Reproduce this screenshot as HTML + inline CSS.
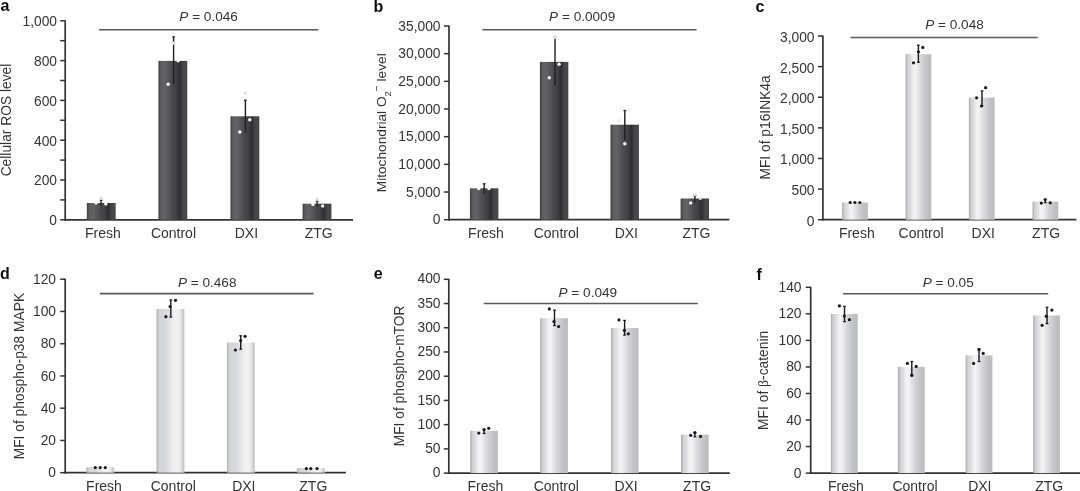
<!DOCTYPE html>
<html><head><meta charset="utf-8"><title>Figure</title>
<style>
html,body{margin:0;padding:0;background:#fff;}
svg{display:block;will-change:transform;filter:blur(0.3px);}
.t{font-family:"Liberation Sans", Arial, Helvetica, sans-serif;font-size:14px;fill:#333333;}
.s{font-size:13.8px;}
.pv{font-size:13.6px;}
.L{font-family:"Liberation Sans", Arial, Helvetica, sans-serif;font-size:16px;font-weight:bold;fill:#0d0d0d;}
</style></head><body>
<svg width="1080" height="491" viewBox="0 0 1080 491">
<defs>
<linearGradient id="gd" x1="0" x2="1" y1="0" y2="0">
<stop offset="0" stop-color="#3a3a3a"/>
<stop offset="0.08" stop-color="#5c5c5e"/>
<stop offset="0.22" stop-color="#636365"/>
<stop offset="0.45" stop-color="#4c4c4e"/>
<stop offset="0.62" stop-color="#404042"/>
<stop offset="0.74" stop-color="#2e2e2f"/>
<stop offset="0.84" stop-color="#444446"/>
<stop offset="0.95" stop-color="#4a4a4c"/>
<stop offset="1" stop-color="#3c3c3c"/>
</linearGradient>
<linearGradient id="gl" x1="0" x2="1" y1="0" y2="0">
<stop offset="0" stop-color="#a4a4a6"/>
<stop offset="0.04" stop-color="#bdbdbf"/>
<stop offset="0.09" stop-color="#d2d2d4"/>
<stop offset="0.2" stop-color="#dedee0"/>
<stop offset="0.31" stop-color="#f2f2f2"/>
<stop offset="0.38" stop-color="#f3f3f3"/>
<stop offset="0.5" stop-color="#e4e4e6"/>
<stop offset="0.62" stop-color="#d5d5d7"/>
<stop offset="0.76" stop-color="#c8c8ca"/>
<stop offset="0.9" stop-color="#bdbec0"/>
<stop offset="0.97" stop-color="#bebebf"/>
<stop offset="1" stop-color="#c8c8c8"/>
</linearGradient>
<linearGradient id="gl2" x1="0" x2="1" y1="0" y2="0">
<stop offset="0" stop-color="#a9a9ab"/>
<stop offset="0.04" stop-color="#c2c2c4"/>
<stop offset="0.1" stop-color="#d3d4d6"/>
<stop offset="0.3" stop-color="#d7d8da"/>
<stop offset="0.45" stop-color="#e1e1e3"/>
<stop offset="0.6" stop-color="#eeeeee"/>
<stop offset="0.75" stop-color="#f3f3f3"/>
<stop offset="0.86" stop-color="#e8e8e8"/>
<stop offset="0.93" stop-color="#cfcfd1"/>
<stop offset="0.97" stop-color="#c8c8ca"/>
<stop offset="1" stop-color="#d6d6d6"/>
</linearGradient>
</defs>
<line x1="65.2" y1="20.3" x2="65.2" y2="220.6" stroke="#333333" stroke-width="1.7"/>
<line x1="64.4" y1="219.8" x2="353" y2="219.8" stroke="#333333" stroke-width="1.7"/>
<line x1="60.2" y1="219.8" x2="65.2" y2="219.8" stroke="#333333" stroke-width="1.5"/>
<text x="57" y="225.13" text-anchor="end" class="t s">0</text>
<line x1="60.2" y1="199.9" x2="65.2" y2="199.9" stroke="#333333" stroke-width="1.5"/>
<line x1="60.2" y1="180" x2="65.2" y2="180" stroke="#333333" stroke-width="1.5"/>
<text x="57" y="185.33" text-anchor="end" class="t s">200</text>
<line x1="60.2" y1="160.1" x2="65.2" y2="160.1" stroke="#333333" stroke-width="1.5"/>
<line x1="60.2" y1="140.2" x2="65.2" y2="140.2" stroke="#333333" stroke-width="1.5"/>
<text x="57" y="145.53" text-anchor="end" class="t s">400</text>
<line x1="60.2" y1="120.3" x2="65.2" y2="120.3" stroke="#333333" stroke-width="1.5"/>
<line x1="60.2" y1="100.4" x2="65.2" y2="100.4" stroke="#333333" stroke-width="1.5"/>
<text x="57" y="105.73" text-anchor="end" class="t s">600</text>
<line x1="60.2" y1="80.5" x2="65.2" y2="80.5" stroke="#333333" stroke-width="1.5"/>
<line x1="60.2" y1="60.6" x2="65.2" y2="60.6" stroke="#333333" stroke-width="1.5"/>
<text x="57" y="65.93" text-anchor="end" class="t s">800</text>
<line x1="60.2" y1="40.7" x2="65.2" y2="40.7" stroke="#333333" stroke-width="1.5"/>
<line x1="60.2" y1="20.8" x2="65.2" y2="20.8" stroke="#333333" stroke-width="1.5"/>
<text x="57" y="26.13" text-anchor="end" class="t s">1,000</text>
<rect x="86.85" y="203" width="28.8" height="16.8" fill="url(#gd)"/>
<rect x="158.45" y="60.9" width="28.8" height="158.9" fill="url(#gd)"/>
<rect x="230.5" y="116.3" width="28.8" height="103.5" fill="url(#gd)"/>
<rect x="302.6" y="203.7" width="28.8" height="16.1" fill="url(#gd)"/>
<line x1="101.05" y1="200.2" x2="101.05" y2="205.7" stroke="#1f1f1f" stroke-width="1.4"/>
<line x1="99.65" y1="200.2" x2="102.45" y2="200.2" stroke="#1f1f1f" stroke-width="1.2"/>
<circle cx="96" cy="202.9" r="1.7" fill="#ffffff"/>
<circle cx="105.8" cy="203.9" r="1.7" fill="#ffffff"/>
<circle cx="101.1" cy="198.3" r="1.7" fill="#e0e0e0"/>
<line x1="173.6" y1="36.9" x2="173.6" y2="84.3" stroke="#1f1f1f" stroke-width="1.4"/>
<line x1="172.2" y1="36.9" x2="175" y2="36.9" stroke="#1f1f1f" stroke-width="1.2"/>
<circle cx="168.2" cy="84.3" r="1.7" fill="#ffffff"/>
<circle cx="178.2" cy="60.7" r="1.7" fill="#ffffff"/>
<circle cx="173.9" cy="43.2" r="1.7" fill="#e0e0e0"/>
<line x1="245.4" y1="100.2" x2="245.4" y2="132.5" stroke="#1f1f1f" stroke-width="1.4"/>
<line x1="244" y1="100.2" x2="246.8" y2="100.2" stroke="#1f1f1f" stroke-width="1.2"/>
<circle cx="239.8" cy="132" r="1.7" fill="#ffffff"/>
<circle cx="249.8" cy="119.8" r="1.7" fill="#ffffff"/>
<circle cx="245.4" cy="93.3" r="1.7" fill="#e0e0e0"/>
<line x1="317.1" y1="201" x2="317.1" y2="206.3" stroke="#1f1f1f" stroke-width="1.4"/>
<line x1="315.7" y1="201" x2="318.5" y2="201" stroke="#1f1f1f" stroke-width="1.2"/>
<circle cx="313" cy="204.4" r="1.7" fill="#ffffff"/>
<circle cx="322.7" cy="205.9" r="1.7" fill="#ffffff"/>
<circle cx="317.1" cy="199.3" r="1.7" fill="#e0e0e0"/>
<line x1="99" y1="29.7" x2="318.3" y2="29.7" stroke="#5a5a5a" stroke-width="1.6"/>
<text x="179.3" y="20.8" class="t pv"><tspan font-style="italic">P</tspan> = 0.046</text>
<text x="102.9" y="237.6" text-anchor="middle" class="t">Fresh</text>
<text x="173.45" y="237.6" text-anchor="middle" class="t">Control</text>
<text x="246.4" y="237.6" text-anchor="middle" class="t">DXI</text>
<text x="318.7" y="237.6" text-anchor="middle" class="t">ZTG</text>
<text transform="translate(11.1,120) rotate(-90)" text-anchor="middle" class="t" style="font-size:13.8px">Cellular ROS level</text>
<text x="0.5" y="11" class="L">a</text>
<line x1="449" y1="25.5" x2="449" y2="220.5" stroke="#333333" stroke-width="1.7"/>
<line x1="448.2" y1="219.7" x2="729.3" y2="219.7" stroke="#333333" stroke-width="1.7"/>
<line x1="444" y1="219.7" x2="449" y2="219.7" stroke="#333333" stroke-width="1.5"/>
<text x="440.5" y="224.43" text-anchor="end" class="t s">0</text>
<line x1="444" y1="192.03" x2="449" y2="192.03" stroke="#333333" stroke-width="1.5"/>
<text x="440.5" y="196.76" text-anchor="end" class="t s">5,000</text>
<line x1="444" y1="164.36" x2="449" y2="164.36" stroke="#333333" stroke-width="1.5"/>
<text x="440.5" y="169.09" text-anchor="end" class="t s">10,000</text>
<line x1="444" y1="136.69" x2="449" y2="136.69" stroke="#333333" stroke-width="1.5"/>
<text x="440.5" y="141.42" text-anchor="end" class="t s">15,000</text>
<line x1="444" y1="109.01" x2="449" y2="109.01" stroke="#333333" stroke-width="1.5"/>
<text x="440.5" y="113.74" text-anchor="end" class="t s">20,000</text>
<line x1="444" y1="81.34" x2="449" y2="81.34" stroke="#333333" stroke-width="1.5"/>
<text x="440.5" y="86.07" text-anchor="end" class="t s">25,000</text>
<line x1="444" y1="53.67" x2="449" y2="53.67" stroke="#333333" stroke-width="1.5"/>
<text x="440.5" y="58.4" text-anchor="end" class="t s">30,000</text>
<line x1="444" y1="26" x2="449" y2="26" stroke="#333333" stroke-width="1.5"/>
<text x="440.5" y="30.73" text-anchor="end" class="t s">35,000</text>
<rect x="469.95" y="188.3" width="28.4" height="31.4" fill="url(#gd)"/>
<rect x="539.9" y="61.9" width="28.4" height="157.8" fill="url(#gd)"/>
<rect x="610.5" y="124.7" width="28.4" height="95" fill="url(#gd)"/>
<rect x="680.6" y="198.5" width="28.4" height="21.2" fill="url(#gd)"/>
<line x1="484.2" y1="183.8" x2="484.2" y2="193.5" stroke="#1f1f1f" stroke-width="1.4"/>
<line x1="482.8" y1="183.8" x2="485.6" y2="183.8" stroke="#1f1f1f" stroke-width="1.2"/>
<circle cx="478.8" cy="188.6" r="1.7" fill="#ffffff"/>
<circle cx="489" cy="188.6" r="1.7" fill="#ffffff"/>
<line x1="555" y1="37.2" x2="555" y2="85.6" stroke="#1f1f1f" stroke-width="1.4"/>
<line x1="553.6" y1="37.2" x2="556.4" y2="37.2" stroke="#1f1f1f" stroke-width="1.2"/>
<circle cx="549.3" cy="77.8" r="1.7" fill="#ffffff"/>
<circle cx="559.1" cy="64.3" r="1.7" fill="#ffffff"/>
<circle cx="555" cy="37.2" r="1.7" fill="#e0e0e0"/>
<line x1="624.8" y1="110.5" x2="624.8" y2="140" stroke="#1f1f1f" stroke-width="1.4"/>
<line x1="623.4" y1="110.5" x2="626.2" y2="110.5" stroke="#1f1f1f" stroke-width="1.2"/>
<circle cx="624.8" cy="143.8" r="1.7" fill="#ffffff"/>
<circle cx="619.2" cy="120.8" r="1.7" fill="#ececec"/>
<circle cx="629" cy="110.3" r="1.7" fill="#ececec"/>
<line x1="694.9" y1="195.8" x2="694.9" y2="202.4" stroke="#1f1f1f" stroke-width="1.4"/>
<line x1="693.5" y1="195.8" x2="696.3" y2="195.8" stroke="#1f1f1f" stroke-width="1.2"/>
<circle cx="690.7" cy="202.9" r="1.7" fill="#ffffff"/>
<circle cx="700.3" cy="198.2" r="1.7" fill="#e8e8e8"/>
<circle cx="694.9" cy="194.6" r="1.7" fill="#e0e0e0"/>
<line x1="482.4" y1="29.7" x2="696.6" y2="29.7" stroke="#5a5a5a" stroke-width="1.6"/>
<text x="549.1" y="20.8" class="t pv"><tspan font-style="italic">P</tspan> = 0.0009</text>
<text x="486" y="237.8" text-anchor="middle" class="t">Fresh</text>
<text x="556.3" y="237.8" text-anchor="middle" class="t">Control</text>
<text x="626.3" y="237.8" text-anchor="middle" class="t">DXI</text>
<text x="696.4" y="237.8" text-anchor="middle" class="t">ZTG</text>
<text transform="translate(385.6,122.8) rotate(-90)" text-anchor="middle" class="t" style="font-size:13.7px">Mitochondrial O<tspan font-size="9.5" dy="5">2</tspan><tspan font-size="10" dy="-11">&#8722;</tspan><tspan dy="6"> level</tspan></text>
<text x="373.4" y="12.2" class="L">b</text>
<line x1="822.9" y1="35.5" x2="822.9" y2="220.5" stroke="#333333" stroke-width="1.7"/>
<line x1="822.1" y1="219.7" x2="1076.4" y2="219.7" stroke="#333333" stroke-width="1.7"/>
<line x1="817.9" y1="219.7" x2="822.9" y2="219.7" stroke="#333333" stroke-width="1.5"/>
<text x="814.5" y="225.58" text-anchor="end" class="t s">0</text>
<line x1="817.9" y1="189.08" x2="822.9" y2="189.08" stroke="#333333" stroke-width="1.5"/>
<text x="814.5" y="194.96" text-anchor="end" class="t s">500</text>
<line x1="817.9" y1="158.47" x2="822.9" y2="158.47" stroke="#333333" stroke-width="1.5"/>
<text x="814.5" y="164.35" text-anchor="end" class="t s">1,000</text>
<line x1="817.9" y1="127.85" x2="822.9" y2="127.85" stroke="#333333" stroke-width="1.5"/>
<text x="814.5" y="133.73" text-anchor="end" class="t s">1,500</text>
<line x1="817.9" y1="97.23" x2="822.9" y2="97.23" stroke="#333333" stroke-width="1.5"/>
<text x="814.5" y="103.11" text-anchor="end" class="t s">2,000</text>
<line x1="817.9" y1="66.62" x2="822.9" y2="66.62" stroke="#333333" stroke-width="1.5"/>
<text x="814.5" y="72.5" text-anchor="end" class="t s">2,500</text>
<line x1="817.9" y1="36" x2="822.9" y2="36" stroke="#333333" stroke-width="1.5"/>
<text x="814.5" y="41.88" text-anchor="end" class="t s">3,000</text>
<rect x="842.15" y="202.5" width="25.8" height="17.2" fill="url(#gl)"/>
<rect x="905.6" y="54.2" width="25.8" height="165.5" fill="url(#gl)"/>
<rect x="968.9" y="97.5" width="25.8" height="122.2" fill="url(#gl)"/>
<rect x="1032.55" y="201.6" width="25.8" height="18.1" fill="url(#gl)"/>
<circle cx="850.2" cy="202.5" r="1.6" fill="#1a1a1a"/>
<circle cx="854.9" cy="202.5" r="1.6" fill="#1a1a1a"/>
<circle cx="859.8" cy="202.5" r="1.6" fill="#1a1a1a"/>
<line x1="918.4" y1="45.2" x2="918.4" y2="62.3" stroke="#1a1a1a" stroke-width="1.4"/>
<line x1="917" y1="45.2" x2="919.8" y2="45.2" stroke="#1a1a1a" stroke-width="1.2"/>
<line x1="917" y1="62.3" x2="919.8" y2="62.3" stroke="#1a1a1a" stroke-width="1.2"/>
<circle cx="913.5" cy="62.8" r="1.6" fill="#1a1a1a"/>
<circle cx="918.4" cy="51.8" r="1.6" fill="#1a1a1a"/>
<circle cx="922.8" cy="47.4" r="1.6" fill="#1a1a1a"/>
<line x1="982" y1="90.9" x2="982" y2="106" stroke="#1a1a1a" stroke-width="1.4"/>
<line x1="980.6" y1="90.9" x2="983.4" y2="90.9" stroke="#1a1a1a" stroke-width="1.2"/>
<line x1="980.6" y1="106" x2="983.4" y2="106" stroke="#1a1a1a" stroke-width="1.2"/>
<circle cx="976.6" cy="97.8" r="1.6" fill="#1a1a1a"/>
<circle cx="981.5" cy="106" r="1.6" fill="#1a1a1a"/>
<circle cx="985.6" cy="87.7" r="1.6" fill="#1a1a1a"/>
<line x1="1045.2" y1="199.5" x2="1045.2" y2="202.6" stroke="#1a1a1a" stroke-width="1.4"/>
<line x1="1043.8" y1="199.5" x2="1046.6" y2="199.5" stroke="#1a1a1a" stroke-width="1.2"/>
<line x1="1043.8" y1="202.6" x2="1046.6" y2="202.6" stroke="#1a1a1a" stroke-width="1.2"/>
<circle cx="1041.3" cy="203.1" r="1.6" fill="#1a1a1a"/>
<circle cx="1045.2" cy="199.5" r="1.6" fill="#1a1a1a"/>
<circle cx="1050.2" cy="202.8" r="1.6" fill="#1a1a1a"/>
<line x1="850.4" y1="37.5" x2="1037.7" y2="37.5" stroke="#5a5a5a" stroke-width="1.6"/>
<text x="925.2" y="29.3" class="t pv"><tspan font-style="italic">P</tspan> = 0.048</text>
<text x="856.8" y="238.4" text-anchor="middle" class="t">Fresh</text>
<text x="921.1" y="238.4" text-anchor="middle" class="t">Control</text>
<text x="983.2" y="238.4" text-anchor="middle" class="t">DXI</text>
<text x="1046.1" y="238.4" text-anchor="middle" class="t">ZTG</text>
<text transform="translate(770.1,127.45) rotate(-90)" text-anchor="middle" class="t" style="font-size:13.8px">MFI of p16INK4a</text>
<text x="755.5" y="11.8" class="L">c</text>
<line x1="65.2" y1="278.7" x2="65.2" y2="473.5" stroke="#333333" stroke-width="1.7"/>
<line x1="64.4" y1="472.7" x2="345.9" y2="472.7" stroke="#333333" stroke-width="1.7"/>
<line x1="60.2" y1="472.7" x2="65.2" y2="472.7" stroke="#333333" stroke-width="1.5"/>
<text x="56" y="477.45" text-anchor="end" class="t s">0</text>
<line x1="60.2" y1="440.45" x2="65.2" y2="440.45" stroke="#333333" stroke-width="1.5"/>
<text x="56" y="445.2" text-anchor="end" class="t s">20</text>
<line x1="60.2" y1="408.2" x2="65.2" y2="408.2" stroke="#333333" stroke-width="1.5"/>
<text x="56" y="412.95" text-anchor="end" class="t s">40</text>
<line x1="60.2" y1="375.95" x2="65.2" y2="375.95" stroke="#333333" stroke-width="1.5"/>
<text x="56" y="380.7" text-anchor="end" class="t s">60</text>
<line x1="60.2" y1="343.7" x2="65.2" y2="343.7" stroke="#333333" stroke-width="1.5"/>
<text x="56" y="348.45" text-anchor="end" class="t s">80</text>
<line x1="60.2" y1="311.45" x2="65.2" y2="311.45" stroke="#333333" stroke-width="1.5"/>
<text x="56" y="316.2" text-anchor="end" class="t s">100</text>
<line x1="60.2" y1="279.2" x2="65.2" y2="279.2" stroke="#333333" stroke-width="1.5"/>
<text x="56" y="283.95" text-anchor="end" class="t s">120</text>
<rect x="86.3" y="467.2" width="28" height="5.5" fill="url(#gl2)"/>
<rect x="156.55" y="308.9" width="28" height="163.8" fill="url(#gl2)"/>
<rect x="226.95" y="342.6" width="28" height="130.1" fill="url(#gl2)"/>
<rect x="296.95" y="468.1" width="28" height="4.6" fill="url(#gl2)"/>
<circle cx="95.3" cy="467.6" r="1.6" fill="#1a1a1a"/>
<circle cx="100.2" cy="467.6" r="1.6" fill="#1a1a1a"/>
<circle cx="105.3" cy="467.6" r="1.6" fill="#1a1a1a"/>
<line x1="170.8" y1="299.9" x2="170.8" y2="317" stroke="#1a1a1a" stroke-width="1.4"/>
<line x1="169.4" y1="299.9" x2="172.2" y2="299.9" stroke="#1a1a1a" stroke-width="1.2"/>
<line x1="169.4" y1="317" x2="172.2" y2="317" stroke="#1a1a1a" stroke-width="1.2"/>
<circle cx="165.9" cy="316.7" r="1.6" fill="#1a1a1a"/>
<circle cx="170.1" cy="306.5" r="1.6" fill="#1a1a1a"/>
<circle cx="175.5" cy="300.3" r="1.6" fill="#1a1a1a"/>
<line x1="240.7" y1="335.8" x2="240.7" y2="349.2" stroke="#1a1a1a" stroke-width="1.4"/>
<line x1="239.3" y1="335.8" x2="242.1" y2="335.8" stroke="#1a1a1a" stroke-width="1.2"/>
<line x1="239.3" y1="349.2" x2="242.1" y2="349.2" stroke="#1a1a1a" stroke-width="1.2"/>
<circle cx="235.4" cy="350" r="1.6" fill="#1a1a1a"/>
<circle cx="240.7" cy="340.7" r="1.6" fill="#1a1a1a"/>
<circle cx="245.1" cy="336.3" r="1.6" fill="#1a1a1a"/>
<circle cx="306.4" cy="468.6" r="1.6" fill="#1a1a1a"/>
<circle cx="310.8" cy="468.6" r="1.6" fill="#1a1a1a"/>
<circle cx="317" cy="468.6" r="1.6" fill="#1a1a1a"/>
<line x1="99.8" y1="293.6" x2="313.6" y2="293.6" stroke="#5a5a5a" stroke-width="1.6"/>
<text x="177.9" y="286.6" class="t pv"><tspan font-style="italic">P</tspan> = 0.468</text>
<text x="104" y="491.3" text-anchor="middle" class="t">Fresh</text>
<text x="173.3" y="491.3" text-anchor="middle" class="t">Control</text>
<text x="243.8" y="491.3" text-anchor="middle" class="t">DXI</text>
<text x="313.3" y="491.3" text-anchor="middle" class="t">ZTG</text>
<text transform="translate(23.6,376.1) rotate(-90)" text-anchor="middle" class="t" style="font-size:13.8px">MFI of phospho-p38 MAPK</text>
<text x="0" y="278.6" class="L">d</text>
<line x1="448.8" y1="278.8" x2="448.8" y2="473.9" stroke="#333333" stroke-width="1.7"/>
<line x1="448" y1="473.1" x2="729.8" y2="473.1" stroke="#333333" stroke-width="1.7"/>
<line x1="443.8" y1="473.1" x2="448.8" y2="473.1" stroke="#333333" stroke-width="1.5"/>
<text x="440.5" y="477.27" text-anchor="end" class="t s">0</text>
<line x1="443.8" y1="448.88" x2="448.8" y2="448.88" stroke="#333333" stroke-width="1.5"/>
<text x="440.5" y="453.05" text-anchor="end" class="t s">50</text>
<line x1="443.8" y1="424.65" x2="448.8" y2="424.65" stroke="#333333" stroke-width="1.5"/>
<text x="440.5" y="428.82" text-anchor="end" class="t s">100</text>
<line x1="443.8" y1="400.43" x2="448.8" y2="400.43" stroke="#333333" stroke-width="1.5"/>
<text x="440.5" y="404.6" text-anchor="end" class="t s">150</text>
<line x1="443.8" y1="376.2" x2="448.8" y2="376.2" stroke="#333333" stroke-width="1.5"/>
<text x="440.5" y="380.37" text-anchor="end" class="t s">200</text>
<line x1="443.8" y1="351.98" x2="448.8" y2="351.98" stroke="#333333" stroke-width="1.5"/>
<text x="440.5" y="356.15" text-anchor="end" class="t s">250</text>
<line x1="443.8" y1="327.75" x2="448.8" y2="327.75" stroke="#333333" stroke-width="1.5"/>
<text x="440.5" y="331.92" text-anchor="end" class="t s">300</text>
<line x1="443.8" y1="303.52" x2="448.8" y2="303.52" stroke="#333333" stroke-width="1.5"/>
<text x="440.5" y="307.69" text-anchor="end" class="t s">350</text>
<line x1="443.8" y1="279.3" x2="448.8" y2="279.3" stroke="#333333" stroke-width="1.5"/>
<text x="440.5" y="283.47" text-anchor="end" class="t s">400</text>
<rect x="470.2" y="430.8" width="27.8" height="42.3" fill="url(#gl)"/>
<rect x="540.2" y="318.2" width="27.8" height="154.9" fill="url(#gl)"/>
<rect x="610.9" y="328" width="27.8" height="145.1" fill="url(#gl)"/>
<rect x="681" y="434.7" width="27.8" height="38.4" fill="url(#gl)"/>
<line x1="484.1" y1="429.6" x2="484.1" y2="433.5" stroke="#1a1a1a" stroke-width="1.4"/>
<line x1="482.7" y1="429.6" x2="485.5" y2="429.6" stroke="#1a1a1a" stroke-width="1.2"/>
<line x1="482.7" y1="433.5" x2="485.5" y2="433.5" stroke="#1a1a1a" stroke-width="1.2"/>
<circle cx="478.8" cy="433.1" r="1.6" fill="#1a1a1a"/>
<circle cx="484.1" cy="429.6" r="1.6" fill="#1a1a1a"/>
<circle cx="488.7" cy="428.3" r="1.6" fill="#1a1a1a"/>
<line x1="554.5" y1="310.1" x2="554.5" y2="325.5" stroke="#1a1a1a" stroke-width="1.4"/>
<line x1="553.1" y1="310.1" x2="555.9" y2="310.1" stroke="#1a1a1a" stroke-width="1.2"/>
<line x1="553.1" y1="325.5" x2="555.9" y2="325.5" stroke="#1a1a1a" stroke-width="1.2"/>
<circle cx="549.3" cy="308.9" r="1.6" fill="#1a1a1a"/>
<circle cx="554" cy="321.6" r="1.6" fill="#1a1a1a"/>
<circle cx="558.6" cy="326.5" r="1.6" fill="#1a1a1a"/>
<line x1="624.6" y1="320.4" x2="624.6" y2="335.1" stroke="#1a1a1a" stroke-width="1.4"/>
<line x1="623.2" y1="320.4" x2="626" y2="320.4" stroke="#1a1a1a" stroke-width="1.2"/>
<line x1="623.2" y1="335.1" x2="626" y2="335.1" stroke="#1a1a1a" stroke-width="1.2"/>
<circle cx="619" cy="319.9" r="1.6" fill="#1a1a1a"/>
<circle cx="624.4" cy="330.4" r="1.6" fill="#1a1a1a"/>
<circle cx="628.3" cy="333.8" r="1.6" fill="#1a1a1a"/>
<line x1="694.9" y1="432.7" x2="694.9" y2="436.8" stroke="#1a1a1a" stroke-width="1.4"/>
<line x1="693.5" y1="432.7" x2="696.3" y2="432.7" stroke="#1a1a1a" stroke-width="1.2"/>
<line x1="693.5" y1="436.8" x2="696.3" y2="436.8" stroke="#1a1a1a" stroke-width="1.2"/>
<circle cx="690.7" cy="435.3" r="1.6" fill="#1a1a1a"/>
<circle cx="694.9" cy="432.7" r="1.6" fill="#1a1a1a"/>
<circle cx="700.5" cy="436.4" r="1.6" fill="#1a1a1a"/>
<line x1="483.7" y1="303.5" x2="697.8" y2="303.5" stroke="#5a5a5a" stroke-width="1.6"/>
<text x="558.5" y="296.6" class="t pv"><tspan font-style="italic">P</tspan> = 0.049</text>
<text x="485.4" y="491.3" text-anchor="middle" class="t">Fresh</text>
<text x="556.3" y="491.3" text-anchor="middle" class="t">Control</text>
<text x="626.1" y="491.3" text-anchor="middle" class="t">DXI</text>
<text x="697.1" y="491.3" text-anchor="middle" class="t">ZTG</text>
<text transform="translate(404.3,375.9) rotate(-90)" text-anchor="middle" class="t" style="font-size:13.8px">MFI of phospho-mTOR</text>
<text x="373.8" y="278.6" class="L">e</text>
<line x1="810.7" y1="286.8" x2="810.7" y2="473.9" stroke="#333333" stroke-width="1.7"/>
<line x1="809.9" y1="473.1" x2="1080" y2="473.1" stroke="#333333" stroke-width="1.7"/>
<line x1="805.7" y1="473.1" x2="810.7" y2="473.1" stroke="#333333" stroke-width="1.5"/>
<text x="801.5" y="477.65" text-anchor="end" class="t s">0</text>
<line x1="805.7" y1="446.56" x2="810.7" y2="446.56" stroke="#333333" stroke-width="1.5"/>
<text x="801.5" y="451.11" text-anchor="end" class="t s">20</text>
<line x1="805.7" y1="420.01" x2="810.7" y2="420.01" stroke="#333333" stroke-width="1.5"/>
<text x="801.5" y="424.56" text-anchor="end" class="t s">40</text>
<line x1="805.7" y1="393.47" x2="810.7" y2="393.47" stroke="#333333" stroke-width="1.5"/>
<text x="801.5" y="398.02" text-anchor="end" class="t s">60</text>
<line x1="805.7" y1="366.93" x2="810.7" y2="366.93" stroke="#333333" stroke-width="1.5"/>
<text x="801.5" y="371.48" text-anchor="end" class="t s">80</text>
<line x1="805.7" y1="340.39" x2="810.7" y2="340.39" stroke="#333333" stroke-width="1.5"/>
<text x="801.5" y="344.94" text-anchor="end" class="t s">100</text>
<line x1="805.7" y1="313.84" x2="810.7" y2="313.84" stroke="#333333" stroke-width="1.5"/>
<text x="801.5" y="318.39" text-anchor="end" class="t s">120</text>
<line x1="805.7" y1="287.3" x2="810.7" y2="287.3" stroke="#333333" stroke-width="1.5"/>
<text x="801.5" y="291.85" text-anchor="end" class="t s">140</text>
<rect x="830.95" y="314" width="26.9" height="159.1" fill="url(#gl)"/>
<rect x="897.95" y="366.8" width="26.9" height="106.3" fill="url(#gl)"/>
<rect x="965.6" y="355.4" width="26.9" height="117.7" fill="url(#gl)"/>
<rect x="1033.15" y="315.5" width="26.9" height="157.6" fill="url(#gl)"/>
<line x1="844.5" y1="306.3" x2="844.5" y2="321.7" stroke="#1a1a1a" stroke-width="1.4"/>
<line x1="843.1" y1="306.3" x2="845.9" y2="306.3" stroke="#1a1a1a" stroke-width="1.2"/>
<line x1="843.1" y1="321.7" x2="845.9" y2="321.7" stroke="#1a1a1a" stroke-width="1.2"/>
<circle cx="839.4" cy="305.9" r="1.6" fill="#1a1a1a"/>
<circle cx="844.3" cy="316" r="1.6" fill="#1a1a1a"/>
<circle cx="849.4" cy="319.7" r="1.6" fill="#1a1a1a"/>
<line x1="911.8" y1="361.5" x2="911.8" y2="374.9" stroke="#1a1a1a" stroke-width="1.4"/>
<line x1="910.4" y1="361.5" x2="913.2" y2="361.5" stroke="#1a1a1a" stroke-width="1.2"/>
<line x1="910.4" y1="374.9" x2="913.2" y2="374.9" stroke="#1a1a1a" stroke-width="1.2"/>
<circle cx="907.4" cy="363.4" r="1.6" fill="#1a1a1a"/>
<circle cx="916.2" cy="366.4" r="1.6" fill="#1a1a1a"/>
<circle cx="911.8" cy="375.4" r="1.6" fill="#1a1a1a"/>
<line x1="979" y1="348.8" x2="979" y2="361.5" stroke="#1a1a1a" stroke-width="1.4"/>
<line x1="977.6" y1="348.8" x2="980.4" y2="348.8" stroke="#1a1a1a" stroke-width="1.2"/>
<line x1="977.6" y1="361.5" x2="980.4" y2="361.5" stroke="#1a1a1a" stroke-width="1.2"/>
<circle cx="973.6" cy="363.4" r="1.6" fill="#1a1a1a"/>
<circle cx="979" cy="349.7" r="1.6" fill="#1a1a1a"/>
<circle cx="983.2" cy="353.4" r="1.6" fill="#1a1a1a"/>
<line x1="1047" y1="307.2" x2="1047" y2="323.6" stroke="#1a1a1a" stroke-width="1.4"/>
<line x1="1045.6" y1="307.2" x2="1048.4" y2="307.2" stroke="#1a1a1a" stroke-width="1.2"/>
<line x1="1045.6" y1="323.6" x2="1048.4" y2="323.6" stroke="#1a1a1a" stroke-width="1.2"/>
<circle cx="1042.1" cy="325.3" r="1.6" fill="#1a1a1a"/>
<circle cx="1046.3" cy="316.2" r="1.6" fill="#1a1a1a"/>
<circle cx="1051.9" cy="310.1" r="1.6" fill="#1a1a1a"/>
<line x1="843" y1="293.7" x2="1048.2" y2="293.7" stroke="#5a5a5a" stroke-width="1.6"/>
<text x="922.7" y="286.6" class="t pv"><tspan font-style="italic">P</tspan> = 0.05</text>
<text x="845.9" y="491.3" text-anchor="middle" class="t">Fresh</text>
<text x="915" y="491.3" text-anchor="middle" class="t">Control</text>
<text x="979.8" y="491.3" text-anchor="middle" class="t">DXI</text>
<text x="1049.2" y="491.3" text-anchor="middle" class="t">ZTG</text>
<text transform="translate(767.9,380.35) rotate(-90)" text-anchor="middle" class="t" style="font-size:13.8px">MFI of <tspan font-family="Liberation Serif">&#946;</tspan>-catenin</text>
<text x="756.5" y="280" class="L">f</text>
</svg>
</body></html>
